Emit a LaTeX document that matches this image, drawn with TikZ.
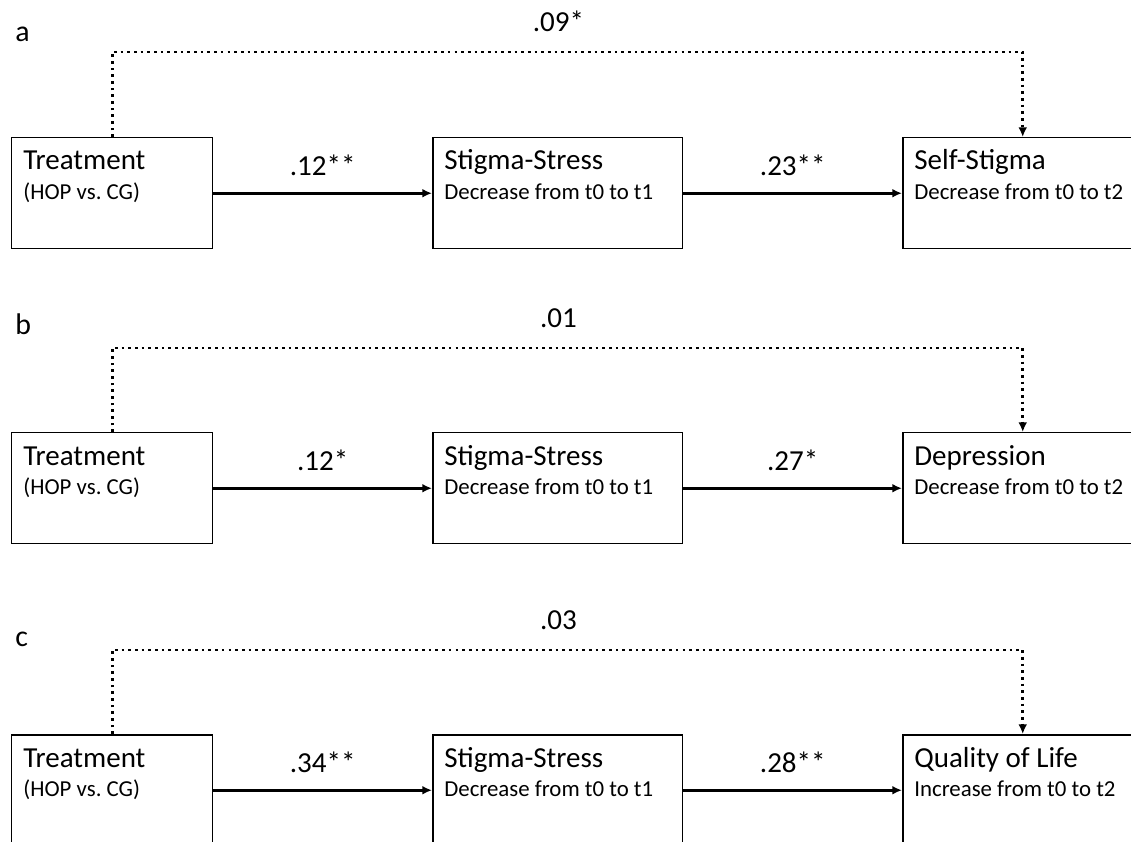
\documentclass[tikz,border=0pt]{standalone}
\usepackage{fontspec}
\setmainfont{Carlito}
\usepackage{tikz}
\usetikzlibrary{calc, arrows.meta, positioning}
\frenchspacing

\begin{document}
\begin{tikzpicture}[x=0.02cm, y=-0.02cm,
    box/.style={draw, line width=0.85pt, anchor=north west, minimum height=2.22cm, inner sep=0pt},
    boxA/.style={box, minimum width=4.02cm},
    boxB/.style={box, minimum width=5cm},
    boxC/.style={box, minimum width=4.8cm},
    title/.style={anchor=base west, inner sep=0pt, font=\fontsize{16.5}{19}\selectfont},
    sub/.style={anchor=base west, inner sep=0pt, font=\fontsize{13}{15}\selectfont},
    coef/.style={inner sep=0pt, font=\fontsize{16.5}{19}\selectfont},
    panel/.style={anchor=base west, inner sep=0pt, font=\fontsize{17}{19}\selectfont},
    path/.style={line width=1.5pt, -{Latex[length=5.5pt,width=5pt]}},
    direct/.style={line width=1.6pt, dash pattern=on 1.5pt off 2.3pt, -{Latex[length=5.5pt,width=5pt]}}]

    % =================================================================
    % 0. KHUNG HÌNH
    % =================================================================
    \useasboundingbox (0,0) rectangle (1131,841);
    \clip (0,0) rectangle (1131,841);

    % =================================================================
    % 1. MÔ HÌNH a
    % =================================================================
    \node[panel] (pa) at (15,42) {a};
    \node[boxA] (a1) at (11,137) {};
    \node[boxB] (a2) at (432,137) {};
    \node[boxC] (a3) at (902,137) {};

    % Nội dung các ô
    \node[title] (a1t) at ([shift={(12,33)}]a1.north west) {Treatment};
    \node[sub]   (a1s) at ([shift={(12,62)}]a1.north west) {(HOP vs. CG)};
    \node[title] (a2t) at ([shift={(12,33)}]a2.north west) {Stigma-Stress};
    \node[sub]   (a2s) at ([shift={(12,62)}]a2.north west) {Decrease from t0 to t1};
    \node[title] (a3t) at ([shift={(12,33)}]a3.north west) {Self-Stigma};
    \node[sub]   (a3s) at ([shift={(12,62)}]a3.north west) {Decrease from t0 to t2};

    % Các mũi tên
    \draw[path] (a1.east) -- node[coef, above=9pt] {.12**} (a2.west);
    \draw[path] (a2.east) -- node[coef, above=9pt] {.23**} (a3.west);
    \draw[direct] (a1.north) -- ++(0,-85) -| node[coef, pos=0.245, above=11pt] {.09*} (a3.north);

    % =================================================================
    % 2. MÔ HÌNH b
    % =================================================================
    \node[panel] (pb) at (15,334) {b};
    \node[boxA] (b1) at (11,432) {};
    \node[boxB] (b2) at (432,432) {};
    \node[boxC] (b3) at (902,432) {};

    % Nội dung các ô
    \node[title] (b1t) at ([shift={(12,33)}]b1.north west) {Treatment};
    \node[sub]   (b1s) at ([shift={(12,62)}]b1.north west) {(HOP vs. CG)};
    \node[title] (b2t) at ([shift={(12,33)}]b2.north west) {Stigma-Stress};
    \node[sub]   (b2s) at ([shift={(12,62)}]b2.north west) {Decrease from t0 to t1};
    \node[title] (b3t) at ([shift={(12,33)}]b3.north west) {Depression};
    \node[sub]   (b3s) at ([shift={(12,62)}]b3.north west) {Decrease from t0 to t2};

    % Các mũi tên
    \draw[path] (b1.east) -- node[coef, above=9pt] {.12*} (b2.west);
    \draw[path] (b2.east) -- node[coef, above=9pt] {.27*} (b3.west);
    \draw[direct] (b1.north) -- ++(0,-84) -| node[coef, pos=0.245, above=11pt] {.01} (b3.north);

    % =================================================================
    % 3. MÔ HÌNH c
    % =================================================================
    \node[panel] (pc) at (15,646) {c};
    \node[boxA] (c1) at (11,734) {};
    \node[boxB] (c2) at (432,734) {};
    \node[boxC] (c3) at (902,734) {};

    % Nội dung các ô
    \node[title] (c1t) at ([shift={(12,33)}]c1.north west) {Treatment};
    \node[sub]   (c1s) at ([shift={(12,62)}]c1.north west) {(HOP vs. CG)};
    \node[title] (c2t) at ([shift={(12,33)}]c2.north west) {Stigma-Stress};
    \node[sub]   (c2s) at ([shift={(12,62)}]c2.north west) {Decrease from t0 to t1};
    \node[title] (c3t) at ([shift={(12,33)}]c3.north west) {Quality of Life};
    \node[sub]   (c3s) at ([shift={(12,62)}]c3.north west) {Increase from t0 to t2};

    % Các mũi tên
    \draw[path] (c1.east) -- node[coef, above=9pt] {.34**} (c2.west);
    \draw[path] (c2.east) -- node[coef, above=9pt] {.28**} (c3.west);
    \draw[direct] (c1.north) -- ++(0,-84) -| node[coef, pos=0.245, above=11pt] {.03} (c3.north);

\end{tikzpicture}
\end{document}
